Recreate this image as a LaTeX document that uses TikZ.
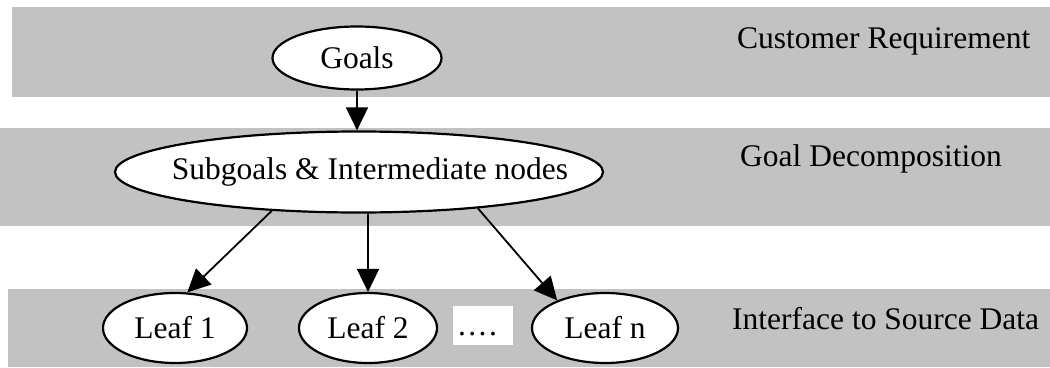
\documentclass[tikz,border=0pt]{standalone}
\usepackage{fontspec}
\setmainfont{Liberation Serif}
\usetikzlibrary{shapes.geometric,arrows.meta}
\definecolor{bandgrey}{RGB}{194,194,194}
\begin{document}
\begin{tikzpicture}[x=1pt,y=-1pt,
  oval/.style={ellipse,draw=black,line width=2.2pt,fill=white,inner sep=0pt,
    font=\fontsize{31.5}{36}\selectfont},
  layer/.style={anchor=base west,inner sep=0pt,font=\fontsize{31.5}{36}\selectfont},
  link/.style={line width=1.8pt,-{Triangle[length=23pt,width=22pt]}}
]
\useasboundingbox (0,0) rectangle (1050,367);

% horizontal layer bands
\fill[bandgrey] (12,7) rectangle (1050,97);
\fill[bandgrey] (0,128) rectangle (1050,226);
\fill[bandgrey] (8,289) rectangle (1050,367);

% goal hierarchy
\node[oval,minimum width=169pt,minimum height=63pt] (goals) at (357,58) {Goals};
\node[oval,minimum width=488pt,minimum height=81pt] (mid) at (359,172)
  {\makebox[0pt]{\hspace*{22pt}Subgoals \& Intermediate nodes}};
\node[oval,minimum width=144pt,minimum height=70pt] (leaf1) at (175,328) {Leaf 1};
\node[oval,minimum width=138pt,minimum height=70pt] (leaf2) at (368,328) {Leaf 2};
\node[oval,minimum width=146pt,minimum height=70pt] (leafn) at (605,328) {Leaf n};

% ellipsis between the leaves
\node[fill=white,inner sep=0pt,minimum width=60pt,minimum height=39pt] (gap) at (483,325.5) {};
\node[layer] (dots) at (458,335) {.\kern2.4pt.\kern2.4pt.\kern2.4pt.};

% layer names
\node[layer] (cust) at (737,48) {Customer Requirement};
\node[layer] (decomp) at (740,166) {Goal Decomposition};
\node[layer] (iface) at (732,329) {Interface to Source Data};

% connectors
\draw[link] (goals.south) -- (goals.south |- mid.north);
\draw[link] (mid.204) -- (leaf1.71);
\draw[link] (mid.south -| leaf2.north) -- (leaf2.north);
\draw[link] (mid.343) -- (leafn.150);
\end{tikzpicture}
\end{document}
